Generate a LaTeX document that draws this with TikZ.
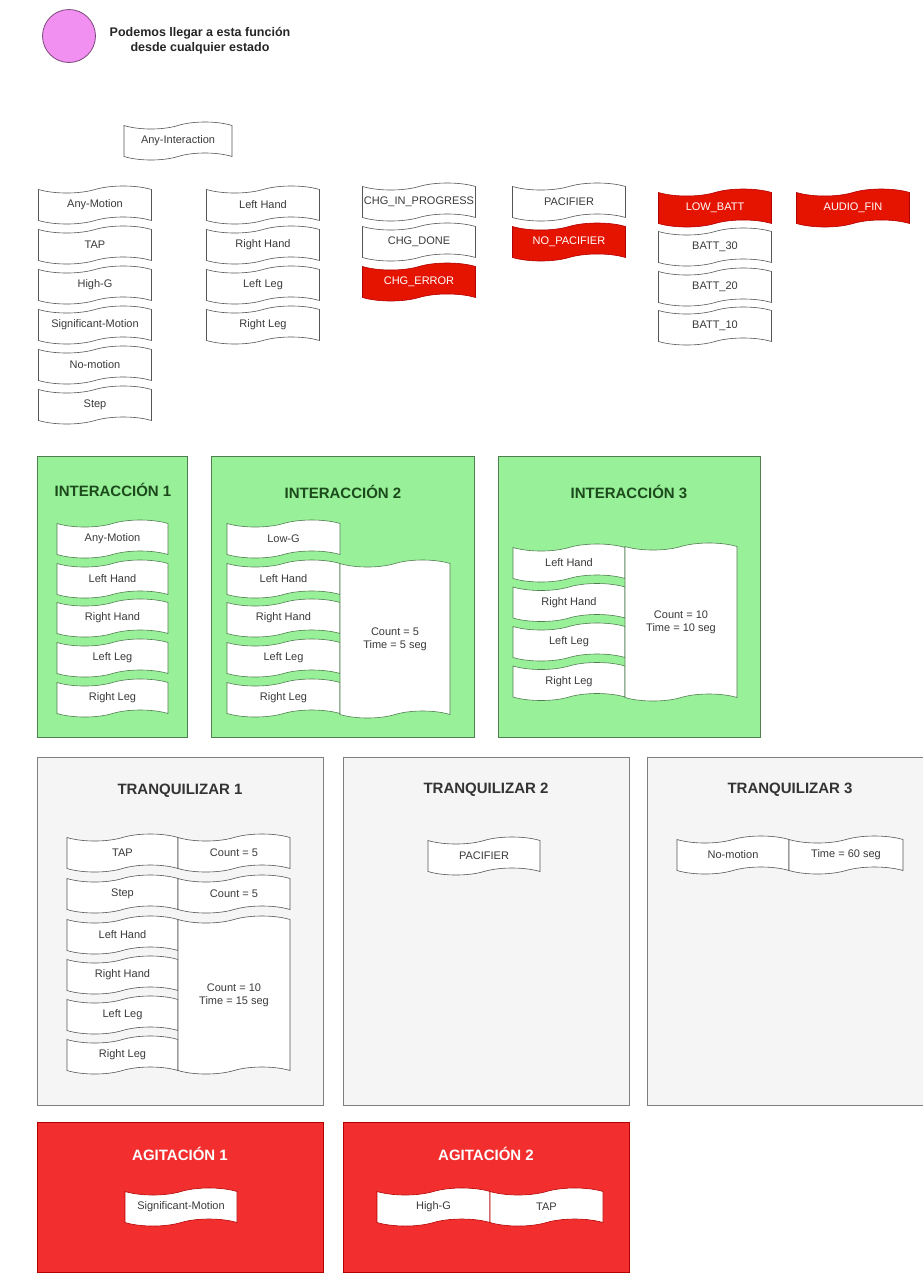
\documentclass[tikz,border=0pt]{standalone}
\usepackage{fontspec}
\setmainfont{Liberation Sans}
\usetikzlibrary{shapes.symbols}
\definecolor{legfill}{HTML}{F290F2}
\definecolor{legline}{HTML}{7A4A7A}
\definecolor{grnfill}{HTML}{98F098}
\definecolor{grnline}{HTML}{4F7F4F}
\definecolor{grntitle}{HTML}{1C4A1C}
\definecolor{gryfill}{HTML}{F5F5F5}
\definecolor{gryline}{HTML}{7F7F7F}
\definecolor{grytitle}{HTML}{333333}
\definecolor{redpanel}{HTML}{F22E2E}
\definecolor{redline}{HTML}{B20000}
\definecolor{redtape}{HTML}{E51400}
\definecolor{tpline}{HTML}{555555}
\definecolor{tptext}{HTML}{3A3A3A}
\tikzset{
  tp/.style={tape, draw=tpline, fill=white, line width=0.6pt,
    minimum width=113pt, minimum height=38pt, inner sep=1pt,
    tape bend height=7pt, text=tptext,
    font=\fontsize{11}{13}\selectfont, align=center},
  tpg/.style={tp, draw=grnline},
  tpr/.style={tp, fill=redtape, draw=redline, text=white},
  panel/.style={draw, line width=1pt, inner sep=0pt},
  grnpanel/.style={panel, fill=grnfill, draw=grnline},
  grypanel/.style={panel, fill=gryfill, draw=gryline},
  redpanel/.style={panel, fill=redpanel, draw=redline},
  ptitle/.style={font=\fontsize{15}{18}\selectfont\bfseries, inner sep=0pt},
}
\begin{document}
\begin{tikzpicture}[x=1pt,y=-1pt]
\useasboundingbox (0,0) rectangle (922,1275);
\fill[white] (0,0) rectangle (922,1275);

% legend
\node[circle, draw=legline, fill=legfill, line width=0.8pt, minimum size=53pt, inner sep=0pt] (leg) at (69,36) {};
\node[font=\fontsize{12.5}{15}\selectfont\bfseries, align=center, text=black!85] (legtxt) at (200,41) {Podemos llegar a esta función\\desde cualquier estado};

% top tapes
\node[tp, minimum width=108pt] (anyint) at (178,141) {Any-Interaction};

\node[tp] (c1a) at (95,205) {Any-Motion};
\node[tp] (c1b) at (95,245) {TAP};
\node[tp] (c1c) at (95,285) {High-G};
\node[tp] (c1d) at (95,325) {Significant-Motion};
\node[tp] (c1e) at (95,365) {No-motion};
\node[tp] (c1f) at (95,405) {Step};

\node[tp] (c2a) at (263,205) {Left Hand};
\node[tp] (c2b) at (263,245) {Right Hand};
\node[tp] (c2c) at (263,285) {Left Leg};
\node[tp] (c2d) at (263,325) {Right Leg};

\node[tp] (c3a) at (419,202) {CHG\_IN\_PROGRESS};
\node[tp] (c3b) at (419,242) {CHG\_DONE};
\node[tpr] (c3c) at (419,282) {CHG\_ERROR};

\node[tp] (c4a) at (569,202) {PACIFIER};
\node[tpr] (c4b) at (569,242) {NO\_PACIFIER};

\node[tpr] (c5a) at (715,208) {LOW\_BATT};
\node[tp] (c5b) at (715,247) {BATT\_30};
\node[tp] (c5c) at (715,287) {BATT\_20};
\node[tp] (c5d) at (715,326) {BATT\_10};

\node[tpr] (c6a) at (853,208) {AUDIO\_FIN};

% INTERACCION panels
\node[grnpanel, minimum width=150pt, minimum height=281pt] (int1) at (112.5,596.5) {};
\node[ptitle, text=grntitle] (int1t) at (113,490) {INTERACCIÓN 1};
\node[tpg, minimum width=111pt] (i1a) at (112.5,539) {Any-Motion};
\node[tpg, minimum width=111pt] (i1b) at (112.5,579) {Left Hand};
\node[tpg, minimum width=111pt] (i1c) at (112.5,618) {Right Hand};
\node[tpg, minimum width=111pt] (i1d) at (112.5,658) {Left Leg};
\node[tpg, minimum width=111pt] (i1e) at (112.5,698) {Right Leg};

\node[grnpanel, minimum width=263pt, minimum height=281pt] (int2) at (343,596.5) {};
\node[ptitle, text=grntitle] (int2t) at (343,492) {INTERACCIÓN 2};
\node[tpg] (i2a) at (283.5,539) {Low-G};
\node[tpg] (i2b) at (283.5,579) {Left Hand};
\node[tpg] (i2c) at (283.5,618) {Right Hand};
\node[tpg] (i2d) at (283.5,658) {Left Leg};
\node[tpg] (i2e) at (283.5,698) {Right Leg};
\node[tpg, minimum width=110pt, minimum height=158pt] (i2f) at (395,639) {Count = 5\\Time = 5 seg};

\node[grnpanel, minimum width=262pt, minimum height=281pt] (int3) at (629,596.5) {};
\node[ptitle, text=grntitle] (int3t) at (629,492) {INTERACCIÓN 3};
\node[tpg, minimum width=112pt] (i3a) at (569,563) {Left Hand};
\node[tpg, minimum width=112pt] (i3b) at (569,602.5) {Right Hand};
\node[tpg, minimum width=112pt] (i3c) at (569,642) {Left Leg};
\node[tpg, minimum width=112pt] (i3d) at (569,681.5) {Right Leg};
\node[tpg, minimum width=112pt, minimum height=158pt] (i3e) at (681,622) {Count = 10\\Time = 10 seg};

% TRANQUILIZAR panels
\node[grypanel, minimum width=286pt, minimum height=348pt] (tr1) at (180,931) {};
\node[ptitle, text=grytitle] (tr1t) at (180,791) {TRANQUILIZAR 1};
\node[tp, minimum width=111pt] (t1a) at (122.5,853) {TAP};
\node[tp, minimum width=112pt] (t1b) at (234,853) {Count = 5};
\node[tp, minimum width=111pt] (t1c) at (122.5,894) {Step};
\node[tp, minimum width=112pt] (t1d) at (234,894) {Count = 5};
\node[tp, minimum width=111pt] (t1e) at (122.5,935) {Left Hand};
\node[tp, minimum width=111pt] (t1f) at (122.5,975) {Right Hand};
\node[tp, minimum width=111pt] (t1g) at (122.5,1015) {Left Leg};
\node[tp, minimum width=111pt] (t1h) at (122.5,1055) {Right Leg};
\node[tp, minimum width=112pt, minimum height=158pt] (t1i) at (234,995) {Count = 10\\Time = 15 seg};

\node[grypanel, minimum width=286pt, minimum height=348pt] (tr2) at (486,931) {};
\node[ptitle, text=grytitle] (tr2t) at (486,790) {TRANQUILIZAR 2};
\node[tp, minimum width=112pt] (t2a) at (484,856) {PACIFIER};

\node[grypanel, minimum width=290pt, minimum height=348pt, anchor=west] (tr3) at (647,931) {};
\node[ptitle, text=grytitle] (tr3t) at (790,790) {TRANQUILIZAR 3};
\node[tp, minimum width=112pt] (t3a) at (733,855) {No-motion};
\node[tp, minimum width=114pt] (t3b) at (846,855) {Time = 60 seg};

% AGITACION panels
\node[redpanel, minimum width=286pt, minimum height=150pt] (ag1) at (180,1197) {};
\node[ptitle, text=white] (ag1t) at (180,1154) {AGITACIÓN 1};
\node[tp, draw=redline, minimum width=112pt] (a1a) at (181,1207) {Significant-Motion};

\node[redpanel, minimum width=286pt, minimum height=150pt] (ag2) at (486,1197) {};
\node[ptitle, text=white] (ag2t) at (486,1154) {AGITACIÓN 2};
\node[tp, draw=redline, minimum width=113pt] (a2a) at (433.5,1207) {High-G};
\node[tp, draw=redline, minimum width=113pt] (a2b) at (546.5,1207) {TAP};
\end{tikzpicture}
\end{document}
